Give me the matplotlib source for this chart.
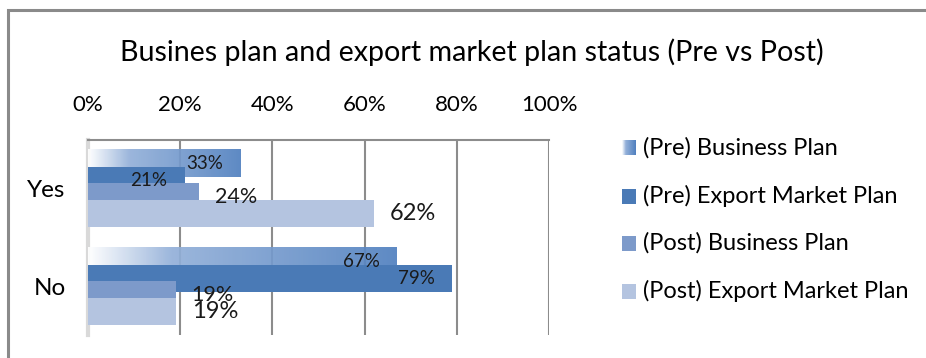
import numpy as np
import matplotlib
matplotlib.use("Agg")
import matplotlib.pyplot as plt
from matplotlib.colors import LinearSegmentedColormap
from matplotlib.patches import Rectangle

plt.rcParams['font.family'] = ['Lato', 'DejaVu Sans']

categories = ['Yes', 'No']
series_names = ['(Pre) Business Plan', '(Pre) Export Market Plan',
                '(Post) Business Plan', '(Post) Export Market Plan']
pre_business = [33, 67]
pre_export = [21, 79]
post_business = [24, 19]
post_export = [62, 19]
series_values = [pre_business, pre_export, post_business, post_export]
x_ticks = [0, 20, 40, 60, 80, 100]

colors = ['#5584c0', '#4a7ab6', '#7d9aca', '#b4c4e0']
grad_cmap = LinearSegmentedColormap.from_list(
    'pre_bp', [(0.0, '#ffffff'), (0.27, '#93b0d9'), (1.0, '#5080bf')])

W, H = 926, 358
fig = plt.figure(figsize=(W / 100, H / 100), dpi=100)

# outer chart frame (runs past right and bottom edge)
fig.add_artist(Rectangle((8 / W, -0.1), 1.2, 1.1 - 10 / H, transform=fig.transFigure,
                         fill=False, ec='#8a8a8a', lw=2.2))

fig.text(472 / W, 1 - 52 / H, 'Busines plan and export market plan status (Pre vs Post)',
         ha='center', va='center', fontsize=20.6)

ax = fig.add_axes([88 / W, 1 - 335 / H, 461 / W, 195 / H])

bar_h = 0.276
step = 0.17
y = np.arange(len(categories))
label_sizes = [13.5, 13.5, 15.5, 17]

for i, vals in enumerate(series_values):
    offs = y + (i - 1.5) * step
    if i == 0:
        grad = np.linspace(0, 1, 256).reshape(1, -1)
        for yy, v in zip(offs, vals):
            ax.imshow(grad, cmap=grad_cmap, aspect='auto', alpha=0.92,
                      extent=[0, v, yy + bar_h / 2, yy - bar_h / 2], zorder=3 + i)
    else:
        ax.barh(offs, vals, height=bar_h, color=colors[i], zorder=3 + i)
    for yy, v in zip(offs, vals):
        if i < 2:
            ax.annotate(f'{v}%', (v, yy), xytext=(-12.5, 0), textcoords='offset points',
                        ha='right', va='center', fontsize=label_sizes[i], color='#1a1a1a', zorder=10)
        else:
            ax.annotate(f'{v}%', (v, yy), xytext=(11.5, 0), textcoords='offset points',
                        ha='left', va='center', fontsize=label_sizes[i], color='#1a1a1a', zorder=10)

ax.set_xlim(0, 100)
ax.set_ylim(1.495, -0.495)
ax.set_xticks(x_ticks)
ax.set_xticklabels([f'{t}%' for t in x_ticks], fontsize=16)
ax.xaxis.tick_top()
ax.set_yticks(y)
ax.set_yticklabels(categories, fontsize=17.5)
ax.tick_params(length=0)
ax.tick_params(axis='x', pad=18)
ax.tick_params(axis='y', pad=16)
for t in x_ticks[1:]:
    ax.axvline(t, color='#8c8c8c', lw=1.5, zorder=1)
ax.spines['top'].set_color('#8c8c8c')
ax.spines['top'].set_linewidth(1.5)
ax.spines['left'].set_color('#d9d9d9')
ax.spines['left'].set_linewidth(3)
ax.spines['right'].set_visible(False)
ax.spines['bottom'].set_visible(False)

# legend drawn by hand
leg_y = [148, 196, 243, 291]
for i, name in enumerate(series_names):
    yc = 1 - leg_y[i] / H
    box = [622 / W, yc - 7.5 / H, 14 / W, 15 / H]
    if i == 0:
        lax = fig.add_axes(box)
        lax.imshow(np.linspace(0, 1, 64).reshape(1, -1), cmap=grad_cmap, aspect='auto')
        lax.axis('off')
    else:
        fig.add_artist(Rectangle(box[:2], box[2], box[3], transform=fig.transFigure,
                                 color=colors[i], lw=0))
    fig.text(643 / W, yc, name, ha='left', va='center', fontsize=17)

fig.savefig('out.png', dpi=100)
